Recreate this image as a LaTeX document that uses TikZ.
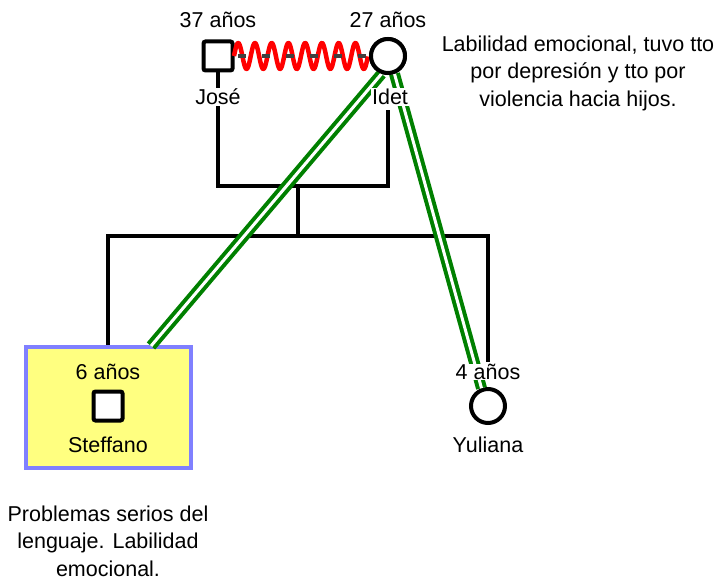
\documentclass[tikz,border=0pt]{standalone}
\usepackage{fontspec}
\setmainfont{Liberation Sans}
\definecolor{emogreen}{RGB}{0,128,0}
\definecolor{boxblue}{RGB}{128,128,255}
\definecolor{boxyellow}{RGB}{255,255,128}
\definecolor{dashgray}{RGB}{64,64,64}
\begin{document}
\begin{tikzpicture}[x=1pt,y=-1pt,
  lbl/.style={font=\fontsize{21.5}{27.5}\selectfont, inner sep=1pt},
  male/.style={draw, line width=4pt, rounded corners=2pt, minimum size=29pt, inner sep=0pt, fill=white},
  female/.style={draw, circle, line width=4pt, minimum size=34pt, inner sep=0pt, fill=white},
  kin/.style={line width=4pt},
  wave/.style={red, line width=4.5pt, line join=round},
  emo/.style={double=white, draw=emogreen, line width=4pt, double distance=3pt}]
\useasboundingbox (0,0) rectangle (720,580);
% box
\node[draw=boxblue, fill=boxyellow, line width=4pt, minimum width=165pt, minimum height=121pt, inner sep=0pt] (sbox) at (108,407) {};
% people
\node[male] (jose) at (218,56) {};
\node[female] (idet) at (388,56) {};
\node[male] (stef) at (108,406) {};
\node[female] (yul) at (488,406) {};
% labels
\node[lbl] (ajose) at (218,20) {37 años};
\node[lbl] (aidet) at (388,20) {27 años};
\node[lbl] (njose) at (218,97) {José};
\node[lbl] (astef) at (108,372) {6 años};
\node[lbl] (nstef) at (108,445) {Steffano};
\node[lbl] (nyul) at (488,445) {Yuliana};
% family lines
\coordinate (mL) at (218,186);
\coordinate (mR) at (388,186);
\coordinate (mC) at (298,186);
\coordinate (sC) at (298,236);
\coordinate (sL) at (108,236);
\coordinate (sR) at (488,236);
\coordinate (iL) at (388,110);
\draw[kin] (njose.south) -- (mL) -- (mR) -- (iL);
\draw[kin] (mC) -- (sC);
\draw[kin] (sbox.north -| sL) -- (sL) -- (sR) -- (488,362);
\draw[kin] (jose.south) -- (njose.north);
% relation (jose.east to idet.west)
\draw[wave] plot[domain=0:1, samples=240, smooth] ({234+134*\x}, {56-13*sin(8*360*\x)});
\draw[dashgray, line width=3.5pt, dash pattern=on 8pt off 16pt, dash phase=-3pt] (jose.east) -- (idet.west);
% emotional lines
\coordinate (stefTop) at (151,346);
\draw[emo] (idet.250) -- (stefTop);
\draw[emo] (idet.290) -- (yul.110);
\node[female] at (idet) {};
\node[lbl, fill=white] (nidet) at (390,97) {Idet};
\node[lbl, fill=white, inner sep=0pt] (ayul) at (488,372) {4 años};
% notes
\node[lbl, align=center] (note1) at (578,73) {Labilidad emocional, tuvo tto\\por depresión y tto por\\violencia hacia hijos.};
\node[lbl, align=center] (note2) at (108,541) {Problemas serios del\\lenguaje. Labilidad\\emocional.};
\end{tikzpicture}
\end{document}
